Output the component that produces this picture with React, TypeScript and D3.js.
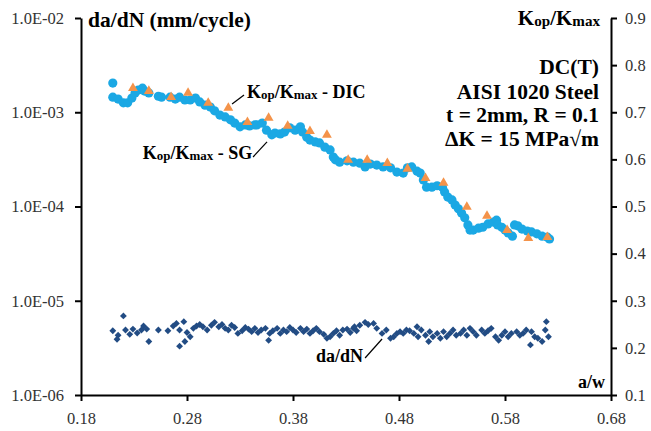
import React, { useEffect, useRef } from "react";
import * as d3 from "d3";

// axis ticks
const awTicks = [0.18, 0.28, 0.38, 0.48, 0.58, 0.68];
const rateTicks = [1e-6, 1e-5, 1e-4, 1e-3, 1e-2];
const ratioTicks = [0.1, 0.2, 0.3, 0.4, 0.5, 0.6, 0.7, 0.8, 0.9];

// Kop/Kmax - SG (strain gauge)
const sgAw = [0.210, 0.210, 0.215, 0.220, 0.224, 0.228, 0.231, 0.234, 0.238, 0.240, 0.244, 0.253, 0.256, 0.264, 0.269, 0.273, 0.278, 0.283, 0.288, 0.292, 0.297, 0.302, 0.306, 0.311, 0.316, 0.321, 0.325, 0.330, 0.335, 0.339, 0.344, 0.346, 0.351, 0.355, 0.360, 0.363, 0.368, 0.372, 0.377, 0.382, 0.387, 0.389, 0.393, 0.396, 0.401, 0.405, 0.410, 0.415, 0.418, 0.420, 0.424, 0.431, 0.437, 0.443, 0.448, 0.453, 0.459, 0.465, 0.472, 0.478, 0.484, 0.488, 0.492, 0.497, 0.500, 0.503, 0.506, 0.511, 0.516, 0.521, 0.523, 0.526, 0.530, 0.533, 0.536, 0.539, 0.542, 0.545, 0.547, 0.550, 0.555, 0.559, 0.564, 0.569, 0.572, 0.573, 0.577, 0.580, 0.583, 0.587, 0.589, 0.592, 0.596, 0.601, 0.605, 0.610, 0.615, 0.620, 0.622];
const sgRatio = [0.762, 0.732, 0.728, 0.720, 0.720, 0.730, 0.741, 0.747, 0.751, 0.745, 0.741, 0.734, 0.732, 0.732, 0.728, 0.732, 0.726, 0.726, 0.730, 0.722, 0.715, 0.711, 0.703, 0.694, 0.690, 0.684, 0.677, 0.669, 0.673, 0.671, 0.673, 0.673, 0.677, 0.662, 0.652, 0.656, 0.654, 0.658, 0.667, 0.662, 0.669, 0.658, 0.647, 0.641, 0.637, 0.635, 0.626, 0.620, 0.605, 0.599, 0.594, 0.597, 0.594, 0.592, 0.584, 0.590, 0.588, 0.584, 0.582, 0.573, 0.571, 0.582, 0.584, 0.575, 0.571, 0.556, 0.541, 0.541, 0.544, 0.541, 0.531, 0.520, 0.514, 0.503, 0.495, 0.486, 0.476, 0.461, 0.450, 0.450, 0.454, 0.456, 0.463, 0.467, 0.471, 0.461, 0.456, 0.450, 0.444, 0.437, 0.461, 0.459, 0.452, 0.448, 0.446, 0.442, 0.437, 0.435, 0.431];

// Kop/Kmax - DIC
const dicAw = [0.229, 0.244, 0.265, 0.281, 0.300, 0.319, 0.337, 0.357, 0.375, 0.396, 0.412, 0.432, 0.450, 0.469, 0.488, 0.505, 0.522, 0.544, 0.563, 0.582, 0.602, 0.620];
const dicRatio = [0.751, 0.745, 0.732, 0.741, 0.720, 0.709, 0.679, 0.688, 0.671, 0.660, 0.652, 0.599, 0.599, 0.592, 0.580, 0.560, 0.550, 0.499, 0.480, 0.450, 0.433, 0.435];

// da/dN (mm/cycle)
const dadnAw = [0.220, 0.210, 0.215, 0.214, 0.222, 0.226, 0.229, 0.233, 0.237, 0.239, 0.242, 0.244, 0.253, 0.262, 0.267, 0.270, 0.273, 0.277, 0.280, 0.283, 0.278, 0.273, 0.286, 0.289, 0.292, 0.295, 0.299, 0.303, 0.306, 0.310, 0.313, 0.316, 0.319, 0.322, 0.325, 0.328, 0.332, 0.335, 0.338, 0.341, 0.344, 0.347, 0.350, 0.354, 0.357, 0.358, 0.361, 0.365, 0.368, 0.371, 0.374, 0.377, 0.380, 0.383, 0.387, 0.390, 0.393, 0.396, 0.399, 0.402, 0.405, 0.409, 0.412, 0.415, 0.418, 0.421, 0.424, 0.427, 0.431, 0.434, 0.437, 0.440, 0.438, 0.443, 0.448, 0.451, 0.456, 0.459, 0.464, 0.468, 0.472, 0.475, 0.478, 0.481, 0.484, 0.487, 0.490, 0.494, 0.497, 0.498, 0.501, 0.505, 0.508, 0.509, 0.512, 0.516, 0.519, 0.522, 0.525, 0.528, 0.531, 0.534, 0.538, 0.541, 0.544, 0.547, 0.550, 0.553, 0.558, 0.561, 0.564, 0.567, 0.571, 0.574, 0.577, 0.580, 0.583, 0.586, 0.591, 0.594, 0.597, 0.600, 0.604, 0.605, 0.608, 0.611, 0.615, 0.618, 0.619, 0.621];
const dadnRate = [6.9e-6, 4.8e-6, 4.3e-6, 3.9e-6, 4.9e-6, 4.4e-6, 5.0e-6, 4.55e-6, 4.9e-6, 5.4e-6, 5.0e-6, 3.7e-6, 4.9e-6, 4.8e-6, 5.4e-6, 5.75e-6, 4.9e-6, 6.0e-6, 4.6e-6, 4.15e-6, 3.7e-6, 3.3e-6, 5.1e-6, 5.4e-6, 5.6e-6, 5.3e-6, 4.9e-6, 5.5e-6, 5.9e-6, 5.3e-6, 5.6e-6, 5.1e-6, 4.9e-6, 5.5e-6, 5.2e-6, 4.5e-6, 4.8e-6, 5.2e-6, 5.0e-6, 4.7e-6, 5.1e-6, 4.6e-6, 4.9e-6, 5.1e-6, 3.8e-6, 4.5e-6, 4.8e-6, 5.1e-6, 4.5e-6, 4.9e-6, 4.7e-6, 5.2e-6, 4.9e-6, 4.6e-6, 5.1e-6, 4.7e-6, 5.0e-6, 4.5e-6, 4.8e-6, 5.1e-6, 4.7e-6, 4.4e-6, 4.0e-6, 4.15e-6, 4.5e-6, 4.8e-6, 4.3e-6, 4.9e-6, 5.0e-6, 4.6e-6, 5.1e-6, 4.8e-6, 5.3e-6, 5.5e-6, 5.9e-6, 5.6e-6, 5.75e-6, 5.1e-6, 4.5e-6, 4.9e-6, 4.0e-6, 4.15e-6, 4.5e-6, 4.7e-6, 4.5e-6, 4.9e-6, 4.8e-6, 4.5e-6, 5.3e-6, 4.15e-6, 4.9e-6, 4.3e-6, 3.7e-6, 4.7e-6, 4.15e-6, 4.5e-6, 4.0e-6, 4.7e-6, 4.15e-6, 4.5e-6, 4.9e-6, 4.3e-6, 4.5e-6, 4.9e-6, 4.3e-6, 5.1e-6, 4.7e-6, 4.3e-6, 4.9e-6, 4.5e-6, 4.8e-6, 5.1e-6, 4.15e-6, 3.8e-6, 4.3e-6, 4.7e-6, 4.15e-6, 4.5e-6, 4.7e-6, 4.3e-6, 4.5e-6, 4.9e-6, 3.4e-6, 4.7e-6, 4.15e-6, 4.0e-6, 3.7e-6, 4.9e-6, 6.0e-6, 4.15e-6];

const W = 651;
const H = 431;
const margin = { left: 81, right: 40, top: 18, bottom: 36 };

const SERIF = "'Liberation Serif', 'Times New Roman', serif";
const SG_COLOR = "#1BA8E4";
const DIC_COLOR = "#F4934A";
const DADN_COLOR = "#224C84";

const x = d3.scaleLinear().domain([0.18, 0.68]).range([margin.left, W - margin.right]);
const yRate = d3.scaleLog().domain([1e-6, 1e-2]).range([H - margin.bottom, margin.top]);
const yRatio = d3.scaleLinear().domain([0.1, 0.9]).range([H - margin.bottom, margin.top]);

const sgData = sgAw.map((a, i) => ({ a, v: sgRatio[i] }));
const dicData = dicAw.map((a, i) => ({ a, v: dicRatio[i] }));
const dadnData = dadnAw.map((a, i) => ({ a, v: dadnRate[i] }));

const triangle = d3.symbol().type(d3.symbolTriangle).size(42)();
const diamond = d3.symbol().type(d3.symbolDiamond2).size(30)();

// text with "op" / "max" as small subscripts
const KLabel = ({ xPos, yPos, anchor, size, suffix }: any) => (
  <text x={xPos} y={yPos} textAnchor={anchor} fontFamily={SERIF} fontWeight="bold" fontSize={size} fill="#000">
    K<tspan fontSize={size * 0.72} dy={1}>op</tspan>
    <tspan dy={-1}>/K</tspan>
    <tspan fontSize={size * 0.72} dy={1}>max</tspan>
    {suffix ? <tspan dy={-1}>{suffix}</tspan> : null}
  </text>
);

const App = () => {
  const xAxisRef = useRef(null);
  const leftAxisRef = useRef(null);
  const rightAxisRef = useRef(null);

  useEffect(() => {
    const xAxis = d3.axisBottom(x).tickValues(awTicks).tickFormat(d3.format(".2f")).tickSize(6).tickSizeOuter(0).tickPadding(11);
    const leftAxis = d3.axisLeft(yRate).tickValues(rateTicks)
      .tickFormat((d: any) => "1.0E-0" + Math.round(-Math.log10(d)))
      .tickSize(6).tickSizeOuter(0).tickPadding(11);
    const rightAxis = d3.axisRight(yRatio).tickValues(ratioTicks).tickFormat(d3.format(".1f")).tickSize(6).tickSizeOuter(0).tickPadding(8);

    [
      [xAxisRef, xAxis],
      [leftAxisRef, leftAxis],
      [rightAxisRef, rightAxis],
    ].forEach(([ref, ax]: any) => {
      const g = d3.select(ref.current);
      g.call(ax);
      g.selectAll("path, line").attr("stroke", "#000").attr("stroke-width", 2);
      g.selectAll("text").attr("font-family", SERIF).attr("font-size", 16.5).attr("fill", "#333");
    });
  }, []);

  return (
    <svg width={W} height={H} style={{ position: "absolute", left: 0, top: 0, background: "#fff" }}>
      <rect width={W} height={H} fill="#fff" />

      {/* da/dN diamonds */}
      {dadnData.map((d, i) => (
        <path key={"d" + i} d={diamond} transform={`translate(${x(d.a)},${yRate(d.v)})`} fill={DADN_COLOR} />
      ))}

      {/* SG circles */}
      {sgData.map((d, i) => (
        <circle key={"s" + i} cx={x(d.a)} cy={yRatio(d.v)} r={4.6} fill={SG_COLOR} />
      ))}

      {/* DIC triangles */}
      {dicData.map((d, i) => (
        <path key={"t" + i} d={triangle} transform={`translate(${x(d.a)},${yRatio(d.v)})`} fill={DIC_COLOR} />
      ))}

      <g ref={xAxisRef} transform={`translate(0,${H - margin.bottom})`} />
      <g ref={leftAxisRef} transform={`translate(${margin.left},0)`} />
      <g ref={rightAxisRef} transform={`translate(${W - margin.right},0)`} />

      {/* leader lines */}
      <line x1={x(0.3225)} y1={yRatio(0.7175)} x2={x(0.3338)} y2={yRatio(0.7366)} stroke="#000" strokeWidth={1.2} />
      <line x1={x(0.3423)} y1={yRatio(0.605)} x2={x(0.3555)} y2={yRatio(0.637)} stroke="#000" strokeWidth={1.2} />
      <line x1={x(0.448)} y1={yRate(2.47e-6)} x2={x(0.464)} y2={yRate(3.93e-6)} stroke="#000" strokeWidth={1.2} />

      <KLabel xPos={x(0.3366)} yPos={yRatio(0.73)} anchor="start" size={18} suffix=" - DIC" />
      <KLabel xPos={x(0.3415)} yPos={yRatio(0.6)} anchor="end" size={18} suffix=" - SG" />
      <text x={x(0.446)} y={yRate(2.24e-6)} textAnchor="end" fontFamily={SERIF} fontWeight="bold" fontSize={18}>da/dN</text>

      {/* axis titles */}
      <text x={88} y={27} fontFamily={SERIF} fontWeight="bold" fontSize={21.5}>da/dN (mm/cycle)</text>
      <KLabel xPos={600} yPos={25} anchor="end" size={21} />
      <text x={605} y={388} textAnchor="end" fontFamily={SERIF} fontWeight="bold" fontSize={18}>a/w</text>

      {/* specimen info */}
      <g fontFamily={SERIF} fontWeight="bold" fontSize={21.5} textAnchor="end">
        <text x={599} y={74}>DC(T)</text>
        <text x={599} y={99}>AISI 1020 Steel</text>
        <text x={599} y={122}>t = 2mm, R = 0.1</text>
        <text x={599} y={146}>ΔK = 15 MPa√m</text>
      </g>
    </svg>
  );
};

export default App;
